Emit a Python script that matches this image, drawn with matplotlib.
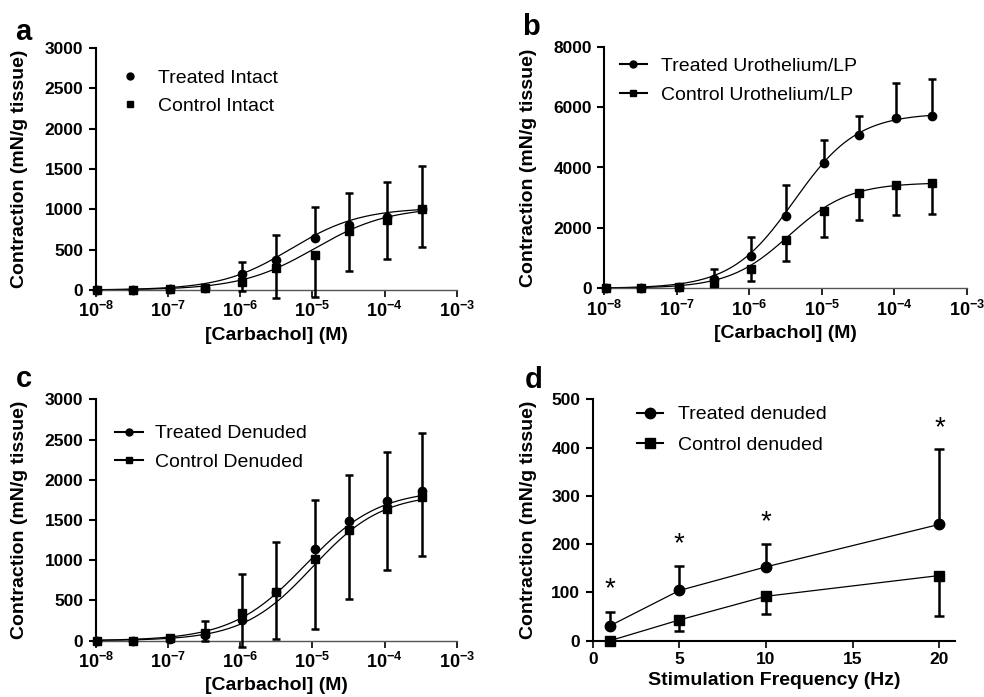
import numpy as np
import matplotlib
matplotlib.use("Agg")
import matplotlib.pyplot as plt
from matplotlib.lines import Line2D
from matplotlib.ticker import NullLocator

plt.rcParams["font.family"] = ["Liberation Sans", "DejaVu Sans"]
plt.rcParams["mathtext.fontset"] = "custom"
plt.rcParams["mathtext.rm"] = "Liberation Sans"
plt.rcParams["mathtext.bf"] = "Liberation Sans:bold"

# carbachol concentrations (log10 M) used in a-c
log_conc = [-7.98, -7.49, -6.97, -6.49, -5.97, -5.50, -4.97, -4.49, -3.97, -3.48]

# panel a: intact strips
a_treated = [0, 5, 10, 30, 199, 372, 650, 811, 900, 1000]
a_treated_err = [0, 0, 5, 20, 153, 306, 376, 389, 445, 543]
a_control = [0, 5, 10, 25, 100, 270, 430, 730, 870, 1000]
a_control_err = [0, 0, 5, 20, 110, 370, 515, 494, 485, 462]
a_fit_treated = dict(top=1020, logec50=-5.3, hill=0.9)
a_fit_control = dict(top=1030, logec50=-4.97, hill=0.85)

# panel b: urothelium / lamina propria
b_treated = [0, 0, 50, 298, 1070, 2406, 4138, 5065, 5630, 5717]
b_treated_err = [0, 0, 20, 330, 640, 1000, 780, 650, 1160, 1200]
b_control = [0, 0, 50, 166, 630, 1600, 2572, 3168, 3422, 3477]
b_control_err = [0, 0, 20, 100, 400, 684, 870, 900, 1000, 1030]
b_fit_treated = dict(top=5800, logec50=-5.38, hill=1.0)
b_fit_control = dict(top=3500, logec50=-5.45, hill=1.05)

# panel c: denuded strips
c_treated = [0, 0, 17, 70, 257, 600, 1144, 1488, 1736, 1865]
c_treated_err = [0, 0, 20, 175, 568, 631, 600, 576, 609, 713]
c_control = [0, 0, 37, 91, 340, 600, 1011, 1376, 1632, 1790]
c_control_err = [0, 0, 37, 91, 420, 583, 860, 858, 753, 737]
c_fit_treated = dict(top=1880, logec50=-5.1, hill=0.85)
c_fit_control = dict(top=1830, logec50=-5.0, hill=0.9)

# panel d: electrical field stimulation
freq_hz = [1, 5, 10, 20]
d_treated = [31, 104, 153, 241]
d_treated_err = [29, 51, 48, 157]
d_control = [0, 43, 92, 135]
d_control_err = [0, 22, 37, 84]
d_star_y = [106, 200, 246, 440]

W, H = 984, 697
fig = plt.figure(figsize=(W / 100, H / 100), dpi=100)


def px_axes(left, top, right, bottom):
    return fig.add_axes([left / W, 1 - bottom / H, (right - left) / W, (bottom - top) / H])


def hill(x, top, logec50, hill):
    return top / (1 + 10 ** ((logec50 - x) * hill))


def style_axes(ax, ylim, yticks, thin_x=False):
    ax.spines["top"].set_visible(False)
    ax.spines["right"].set_visible(False)
    ax.spines["left"].set_linewidth(1.5)
    if thin_x:
        ax.spines["bottom"].set_linewidth(1.0)
        ax.spines["bottom"].set_color("#555555")
    else:
        ax.spines["bottom"].set_linewidth(1.5)
    ax.set_ylim(*ylim)
    ax.set_yticks(yticks, labels=[str(t) for t in yticks], fontweight="bold", fontsize=12.5)
    ax.tick_params(axis="y", direction="out", length=5, width=1.5, pad=4)
    ax.tick_params(axis="x", direction="out", length=5, width=1.2, pad=3)
    ax.set_ylabel("Contraction (mN/g tissue)", fontsize=14, fontweight="bold")


def log_panel(ax, treated, treated_err, control, control_err, fit_t, fit_c, ylim, yticks):
    x = 10.0 ** np.array(log_conc)
    xs = np.linspace(-8, log_conc[-1], 300)
    ax.plot(10 ** xs, hill(xs, **fit_t), color="black", lw=0.9)
    ax.plot(10 ** xs, hill(xs, **fit_c), color="black", lw=0.9)
    ax.errorbar(x, treated, yerr=[np.zeros(len(x)), treated_err], fmt="o", color="black",
                ms=6, elinewidth=1.8, capsize=3, capthick=1.8, clip_on=False, zorder=3)
    ax.errorbar(x, control, yerr=[control_err, np.zeros(len(x))], fmt="s", color="black",
                ms=6, elinewidth=1.8, capsize=3, capthick=1.8, clip_on=False, zorder=3)
    ax.set_xscale("log")
    ax.set_xlim(1e-8, 1e-3)
    decades = [-8, -7, -6, -5, -4, -3]
    ax.set_xticks([10.0 ** d for d in decades],
                  labels=[r"$\mathbf{10^{%d}}$" % d for d in decades], fontsize=13)
    ax.xaxis.set_minor_locator(NullLocator())
    style_axes(ax, ylim, yticks, thin_x=True)
    ax.set_xlabel("[Carbachol] (M)", fontsize=14, fontweight="bold", labelpad=4)
    ax.yaxis.set_label_coords(-0.187, 0.5)


def line_legend(ax, labels, ms, x0, y0, hlen, pad, spacing):
    handles = [
        Line2D([], [], color="black", lw=1.5, marker="o", ms=ms),
        Line2D([], [], color="black", lw=1.5, marker="s", ms=ms),
    ]
    ax.legend(handles, labels, loc="upper left", bbox_to_anchor=(x0, y0), frameon=False,
              fontsize=14, handlelength=hlen, handletextpad=pad, labelspacing=spacing,
              borderaxespad=0, borderpad=0)


# a
ax_a = px_axes(95.7, 48, 457, 290)
log_panel(ax_a, a_treated, a_treated_err, a_control, a_control_err,
          a_fit_treated, a_fit_control, (0, 3000), list(range(0, 3001, 500)))
handles = [
    Line2D([], [], color="black", ls="none", marker="o", ms=5),
    Line2D([], [], color="black", ls="none", marker="s", ms=5),
]
ax_a.legend(handles, ["Treated Intact", "Control Intact"], loc="upper left",
            bbox_to_anchor=(0.067, 0.912), frameon=False, fontsize=14, handlelength=1.0,
            handletextpad=0.95, labelspacing=0.55, borderaxespad=0, borderpad=0)

# b
ax_b = px_axes(604.3, 46.7, 966.7, 288.3)
log_panel(ax_b, b_treated, b_treated_err, b_control, b_control_err,
          b_fit_treated, b_fit_control, (0, 8000), list(range(0, 8001, 2000)))
line_legend(ax_b, ["Treated Urothelium/LP", "Control Urothelium/LP"], 5,
            0.043, 0.955, 1.4, 0.7, 0.58)

# c
ax_c = px_axes(95.7, 399.3, 457, 640.7)
log_panel(ax_c, c_treated, c_treated_err, c_control, c_control_err,
          c_fit_treated, c_fit_control, (0, 3000), list(range(0, 3001, 500)))
line_legend(ax_c, ["Treated Denuded", "Control Denuded"], 5,
            0.053, 0.894, 1.45, 0.6, 0.55)

# d
ax_d = px_axes(592.7, 399.3, 955, 640.7)
ax_d.errorbar(freq_hz, d_treated, yerr=[np.zeros(4), d_treated_err], fmt="-o", color="black",
              lw=0.9, ms=7.5, elinewidth=1.8, capsize=3.5, capthick=1.8, clip_on=False, zorder=3)
ax_d.errorbar(freq_hz, d_control, yerr=[d_control_err, np.zeros(4)], fmt="-s", color="black",
              lw=0.9, ms=7.5, elinewidth=1.8, capsize=3.5, capthick=1.8, clip_on=False, zorder=3)
for f, sy in zip(freq_hz, d_star_y):
    ax_d.text(f, sy, "*", ha="center", va="center", fontsize=20)
ax_d.set_xlim(0, 20.9)
ax_d.set_xticks([0, 5, 10, 15, 20], labels=["0", "5", "10", "15", "20"],
                fontweight="bold", fontsize=12.5)
style_axes(ax_d, (0, 500), list(range(0, 501, 100)))
ax_d.set_xlabel("Stimulation Frequency (Hz)", fontsize=14, fontweight="bold", labelpad=4)
ax_d.yaxis.set_label_coords(-0.154, 0.5)
line_legend(ax_d, ["Treated denuded", "Control denuded"], 7.5,
            0.122, 0.973, 1.35, 0.75, 0.68)

# panel letters
for letter, x, y in [("a", 15, 40), ("b", 522, 35), ("c", 16, 387), ("d", 525, 388)]:
    fig.text(x / W, 1 - y / H, letter, fontsize=21, fontweight="bold", va="baseline")

fig.savefig("out.png", dpi=100)
